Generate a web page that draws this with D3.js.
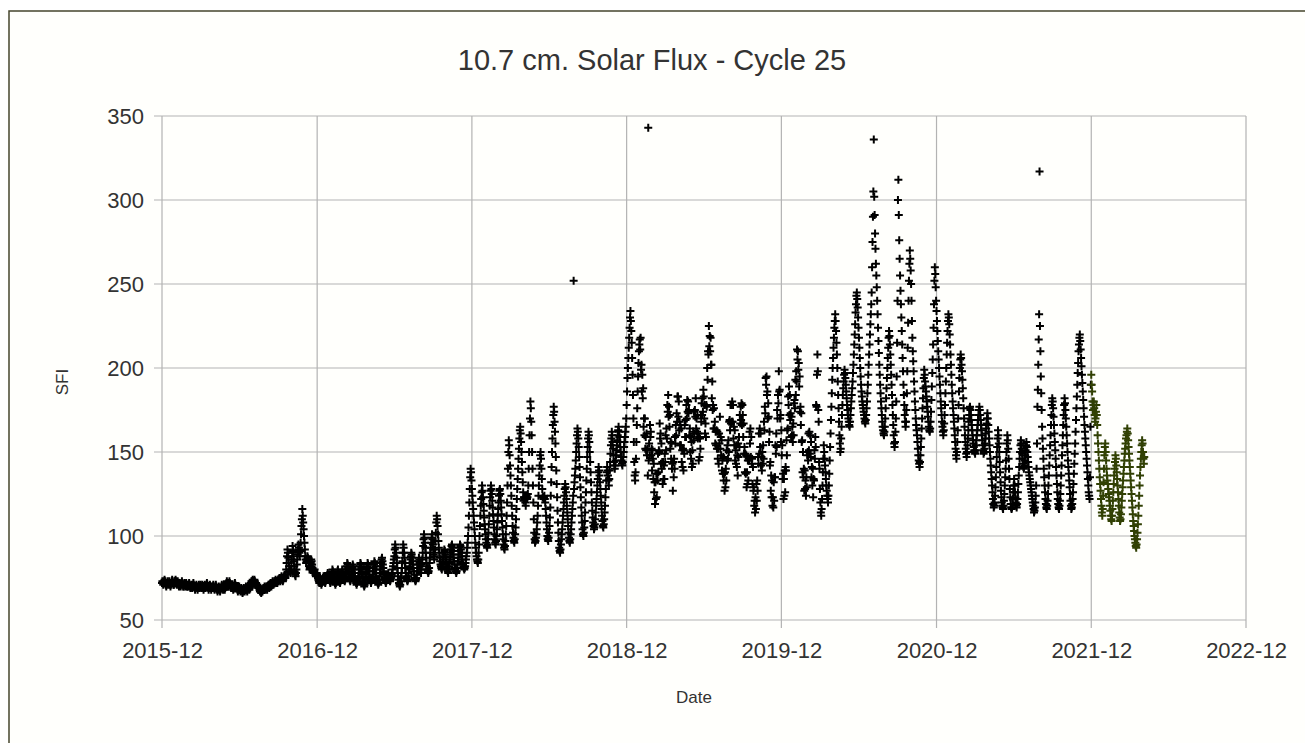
<!DOCTYPE html>
<html>
<head>
<meta charset="utf-8">
<title>10.7 cm. Solar Flux - Cycle 25</title>
<script src="https://d3js.org/d3.v7.min.js"></script>
<style>
  body { margin: 0; background: #ffffff; }
  svg { display: block; font-family: "Liberation Sans", Arial, sans-serif; }
</style>
</head>
<body>
<script>

// Daily SFI readings, one inner array per month
var sfi2015 = [
  [72,73,72,71,72,73,74,73,72,71,70,71,72,73,72,71,72,73,72,71,70,71,72,73,74,73,72,71,71,72,73]
];

var sfi2016 = [
  [73,74,73,72,71,72,73,72,71,70,71,72,71,70,71,72,73,72,71,70,70,71,72,71,70,71,72,71,70,70,71],
  [70,71,72,71,70,69,70,71,70,69,70,71,72,71,70,69,68,69,70,71,70,69,68,69,70,71,70,69,70],
  [71,70,69,70,71,70,69,68,69,70,71,70,69,70,71,72,71,70,69,68,69,70,71,70,69,68,69,70,69,70,71],
  [70,69,68,69,70,71,70,69,68,67,68,69,70,69,68,67,68,69,70,71,70,69,68,69,70,69,68,69,70,71],
  [72,73,72,71,70,71,72,73,72,71,70,69,70,71,70,69,68,69,70,71,72,71,70,69,70,69,68,67,68,69,70],
  [69,68,67,68,69,68,67,66,67,68,69,68,67,68,69,70,69,68,67,68,69,70,69,68,69,70,71,72,73,72],
  [73,74,73,72,73,74,73,72,71,72,71,70,71,70,69,70,69,68,67,68,67,66,67,68,67,68,69,68,69,70,69],
  [68,69,70,69,68,69,70,71,70,69,70,71,72,71,70,71,72,73,72,71,72,73,72,73,74,73,72,73,72,73,74],
  [73,74,75,74,73,74,75,76,75,74,73,74,75,76,77,76,75,77,80,84,88,92,90,87,84,82,80,79,78,80],
  [82,86,90,94,91,88,85,82,79,77,76,78,80,83,86,89,92,95,93,90,88,91,96,101,106,110,116,112,108,104,100],
  [96,92,88,86,84,85,86,88,87,86,84,82,80,81,82,84,86,85,83,81,80,79,78,79,80,78,77,76,77,78],
  [77,76,75,74,73,72,73,74,73,72,71,72,73,74,75,76,75,74,73,72,73,74,75,76,77,78,77,76,75,74,73]
];

var sfi2017 = [
  [72,73,74,76,78,80,79,77,75,74,73,72,71,72,73,75,77,79,80,78,76,74,73,72,73,74,76,78,80,79,77],
  [76,75,74,73,74,76,78,80,82,84,83,81,79,77,75,74,73,74,75,77,79,81,83,82,80,78,76,75],
  [74,73,72,71,72,73,74,75,76,78,80,82,84,83,81,79,77,75,73,72,71,70,71,72,74,76,78,80,82,84,83],
  [81,79,77,75,74,73,72,73,74,75,77,79,81,83,85,84,82,80,78,76,74,73,72,71,72,74,76,78,80,82],
  [84,86,87,85,83,81,79,77,75,74,73,72,73,74,75,76,77,78,76,75,74,73,74,75,76,77,78,80,82,84,86],
  [88,92,95,93,90,87,84,81,78,76,74,72,71,70,71,73,75,78,81,85,90,95,93,90,87,84,81,78,76,75],
  [74,73,74,76,78,80,82,84,86,88,90,89,87,85,83,81,79,77,75,74,73,74,75,77,79,81,83,85,87,86,84],
  [82,80,78,80,83,86,90,94,98,101,99,96,93,90,87,84,82,80,79,78,79,81,84,87,90,93,96,99,101,98,95],
  [92,89,86,88,92,97,102,108,112,110,106,101,97,93,90,87,85,83,82,81,80,82,84,86,88,90,92,91,89,87],
  [85,83,81,80,79,78,80,82,84,86,88,90,92,94,95,93,91,89,87,85,83,81,80,79,78,79,81,83,85,87,89],
  [91,93,95,94,92,90,88,86,84,83,82,81,80,81,82,84,86,88,90,93,96,100,105,112,120,128,135,140,138,133],
  [128,124,120,116,112,108,104,100,96,93,90,88,86,85,84,86,90,95,100,106,112,118,122,126,130,127,123,119,115,111,107]
];

var sfi2018 = [
  [104,101,98,96,94,93,95,98,102,107,112,118,123,127,130,128,125,121,117,113,109,105,101,98,96,95,97,100,104,108,112],
  [116,120,124,127,128,125,121,117,113,109,105,101,98,95,93,92,94,97,101,106,112,120,130,140,150,157,154,148],
  [142,136,130,124,118,112,106,102,99,97,96,98,101,105,110,116,122,128,134,140,146,152,158,163,165,161,156,150,144,138,132],
  [126,121,123,123,122,120,118,123,124,122,123,125,130,140,150,160,170,180,176,168,160,150,140,130,120,110,102,98,96,97],
  [99,101,104,108,112,118,124,130,136,142,148,150,146,140,134,128,123,123,122,123,124,122,120,116,112,108,104,100,98,97,99],
  [102,106,111,117,124,132,141,150,158,166,172,177,174,168,162,155,147,139,131,123,115,108,102,97,93,91,90,92,95,98],
  [101,104,108,112,116,120,124,128,131,129,126,122,118,114,110,106,102,99,97,96,98,101,104,108,112,116,120,124,252,128,132],
  [136,140,145,150,155,160,164,162,158,153,147,141,135,129,123,117,112,108,104,101,100,102,105,109,114,120,126,133,140,147,153],
  [158,162,160,156,150,144,138,132,126,120,115,111,108,106,104,105,107,110,114,118,122,126,130,134,138,141,139,136,132,128],
  [124,120,116,112,109,106,105,107,110,114,118,123,128,133,138,141,139,136,133,130,134,139,144,149,154,158,162,160,156,152,148],
  [144,142,140,142,145,148,151,154,157,160,163,165,162,159,156,153,150,147,145,143,142,144,147,150,153,156,159,162,165,170],
  [178,186,194,200,206,212,218,224,230,234,228,222,215,206,196,184,170,156,144,136,133,138,146,156,166,176,186,195,203,210,214]
];

var sfi2019 = [
  [217,211,218,199,202,186,196,182,188,165,170,160,170,152,159,151,161,148,152,136,343,145,155,148,166,159,162,148,152,139,151],
  [146,134,143,126,132,119,132,122,137,123,137,133,149,138,151,150,167,158,161,143,155,140,144,131,144,134,142,134],
  [149,144,160,151,164,158,178,174,184,171,177,165,172,152,156,146,155,140,143,127,144,135,146,140,159,155,166,160,173,168,183],
  [183,171,180,163,168,154,166,154,164,144,151,141,152,139,151,149,166,159,169,159,178,170,181,174,180,173,175,160,164,150],
  [159,146,156,141,151,143,162,157,174,161,175,171,182,164,170,162,172,158,161,145,159,147,158,152,172,168,179,172,182,174,187],
  [183,170,178,161,167,159,178,177,200,193,210,208,225,213,219,210,218,202,202,182,192,175,178,164,176,164,168,155,162,154],
  [163,152,162,146,152,143,161,155,171,152,159,148,157,139,145,137,147,133,137,127,138,129,140,133,151,145,154,146,157,150,168],
  [169,163,178,167,178,168,180,168,178,158,165,154,163,145,151,143,154,141,148,136,155,147,159,153,172,167,177,169,179,166,178],
  [172,159,167,149,153,138,149,137,148,129,138,131,145,133,146,145,162,155,164,147,159,143,146,131,141,127,129,118,121,114],
  [123,116,131,121,133,127,147,143,161,149,164,153,161,142,147,139,150,143,154,146,168,163,177,173,194,190,195,184,186,170,179],
  [171,156,162,142,144,127,136,123,133,118,123,117,132,121,135,135,154,149,161,153,175,170,184,179,198,186,187,170,172,156],
  [163,148,154,134,137,122,134,124,139,126,141,139,157,148,163,164,183,178,189,172,184,169,173,159,171,160,165,156,167,160,179]
];

var sfi2020 = [
  [181,176,193,184,198,192,211,205,210,199,203,189,195,174,177,166,173,156,157,138,150,135,140,127,139,128,133,124,135,129,148],
  [150,145,161,151,162,149,160,147,156,135,141,130,140,123,134,133,151,146,159,153,178,177,196,208,198,175,168,144,140],
  [128,120,114,112,116,122,130,138,146,154,150,146,142,138,134,130,127,124,122,120,124,130,137,145,153,161,169,177,185,193,200],
  [206,212,218,224,228,232,228,222,215,208,200,192,184,176,168,160,155,150,152,158,165,172,178,184,188,192,196,199,197,194],
  [190,186,182,178,175,172,170,168,166,165,168,172,176,180,184,188,192,197,202,208,214,220,226,233,238,243,245,241,236,230,224],
  [218,212,206,200,195,190,186,183,180,178,176,174,172,170,168,167,169,172,176,180,185,190,196,202,208,214,220,226,232,238],
  [245,260,275,290,305,336,302,291,280,271,262,255,248,240,232,224,216,209,202,196,190,185,180,176,172,168,165,163,161,160,162],
  [165,170,176,182,188,194,200,206,212,218,222,219,214,208,202,196,190,184,178,172,166,160,155,153,156,162,170,180,195,215,240],
  [300,312,291,276,265,255,246,238,230,222,214,206,198,190,184,178,172,168,165,168,175,185,198,212,227,240,252,262,270,265],
  [258,250,240,228,218,210,204,198,192,186,180,175,170,166,163,160,156,152,148,145,143,141,144,148,153,158,164,170,176,182,188],
  [194,199,196,192,189,186,183,180,177,174,171,168,165,163,162,164,168,174,181,189,197,205,214,224,238,252,260,256,248,240],
  [234,228,222,216,210,205,200,195,190,185,180,176,172,168,165,162,160,163,167,172,178,185,192,200,208,215,222,228,232,230,226]
];

var sfi2021 = [
  [220,214,208,202,196,190,185,180,176,172,168,164,160,156,152,148,146,150,156,163,170,178,186,194,200,205,208,206,202,198,193],
  [188,182,176,170,165,160,156,152,149,147,150,154,158,163,168,172,176,177,175,172,169,166,163,160,157,155,153,151],
  [150,149,151,154,157,160,163,166,169,172,175,177,175,172,169,166,163,160,157,154,151,149,150,152,155,158,161,164,167,170,173],
  [170,166,162,158,154,150,146,142,138,134,130,126,122,119,117,118,120,124,129,135,141,147,153,158,163,160,155,150,144,138],
  [132,127,123,120,118,117,116,118,121,125,130,135,140,145,150,155,160,157,152,146,140,134,128,123,119,117,116,117,119,122,126],
  [130,134,130,126,123,120,118,117,119,122,126,131,136,141,146,150,154,157,155,152,149,146,143,141,140,142,145,148,151,154],
  [156,153,150,147,144,141,138,136,134,132,130,128,126,124,122,120,118,116,114,115,117,120,124,130,140,155,177,187,202,217,232],
  [317,225,210,195,185,175,165,158,152,146,140,135,130,126,122,119,117,116,118,121,125,130,136,142,148,154,160,166,172,178,182],
  [180,176,171,166,161,156,151,146,141,136,131,126,122,119,117,116,118,121,125,130,136,142,148,154,160,166,172,178,182,179],
  [175,170,165,160,155,150,145,141,137,133,129,125,121,118,116,117,119,122,126,131,137,143,149,155,162,169,176,183,190,197,203],
  [210,214,218,220,216,211,206,201,196,191,186,181,176,171,166,162,158,154,150,146,142,138,134,130,126,124,122,135,165,190]
];

// Latest readings, Dec 2021 - Apr 2022 (drawn in olive)
var cycle25 = [
  [196,190,186,180,175,178,180,176,172,168,170,174,178,172,166,160,155,150,145,140,135,131,127,122,118,114,112,116,124,132,140],
  [148,153,155,150,145,140,136,133,131,128,125,123,121,118,115,112,110,109,112,116,121,126,131,136,140,144,148,146,142,138,134],
  [130,126,122,118,114,111,109,110,113,117,121,125,129,133,137,141,145,149,152,155,158,160,162,164,161,157,153,149],
  [145,141,137,133,129,125,121,117,113,109,106,103,100,98,96,94,93,95,98,102,107,112,118,124,130,136,141,146,150,154,157],
  [155,150,146,143,147]
];

var yTicks = [50, 100, 150, 200, 250, 300, 350];
var xTickYears = [2015, 2016, 2017, 2018, 2019, 2020, 2021, 2022];

// Turn month blocks into dated points
function toPoints(months, startYear, startMonth, color) {
  var pts = [];
  months.forEach(function(vals, i) {
    vals.forEach(function(v, d) {
      pts.push({ date: new Date(startYear, startMonth + i, d + 1), value: v, color: color });
    });
  });
  return pts;
}

var black = "#000000";
var olive = "#314004";

var points = []
  .concat(toPoints(sfi2015, 2015, 11, black))
  .concat(toPoints(sfi2016, 2016, 0, black))
  .concat(toPoints(sfi2017, 2017, 0, black))
  .concat(toPoints(sfi2018, 2018, 0, black))
  .concat(toPoints(sfi2019, 2019, 0, black))
  .concat(toPoints(sfi2020, 2020, 0, black))
  .concat(toPoints(sfi2021, 2021, 0, black))
  .concat(toPoints(cycle25, 2021, 11, olive));

// SVG area
var svgWidth = 1305;
var svgHeight = 743;

var margin = { top: 116, right: 59, bottom: 123, left: 162 };
var chartWidth = svgWidth - margin.left - margin.right;
var chartHeight = svgHeight - margin.top - margin.bottom;

var svg = d3.select("body")
  .append("svg")
    .attr("width", svgWidth)
    .attr("height", svgHeight);

// outer frame (runs off the right and bottom edge like the screenshot)
svg.append("rect")
  .attr("x", 9)
  .attr("y", 11)
  .attr("width", svgWidth + 20)
  .attr("height", svgHeight + 20)
  .attr("fill", "#fffffc")
  .attr("stroke", "#45452c")
  .attr("stroke-width", 1.5);

var chart = svg.append("g")
  .attr("transform", "translate(" + margin.left + "," + margin.top + ")");

// Scales
var xTimeScale = d3.scaleTime()
  .domain([new Date(2015, 11, 1), new Date(2022, 11, 1)])
  .range([0, chartWidth]);

var yLinearScale = d3.scaleLinear()
  .domain([50, 350])
  .range([chartHeight, 0]);

var tickDates = xTickYears.map(function(y) { return new Date(y, 11, 1); });
var gridColor = "#b3b3b3";

// Grid lines (they also stick out as tick marks)
chart.append("g")
  .selectAll("line")
  .data(yTicks)
  .enter()
  .append("line")
    .attr("x1", -8)
    .attr("x2", chartWidth)
    .attr("y1", function(d) { return yLinearScale(d); })
    .attr("y2", function(d) { return yLinearScale(d); })
    .attr("stroke", gridColor)
    .attr("stroke-width", 1.2);

chart.append("g")
  .selectAll("line")
  .data(tickDates)
  .enter()
  .append("line")
    .attr("x1", function(d) { return xTimeScale(d); })
    .attr("x2", function(d) { return xTimeScale(d); })
    .attr("y1", 0)
    .attr("y2", chartHeight + 8)
    .attr("stroke", gridColor)
    .attr("stroke-width", 1.2);

// Axes, used for the labels only
var leftAxis = d3.axisLeft(yLinearScale)
  .tickValues(yTicks)
  .tickSize(8)
  .tickPadding(10);

var bottomAxis = d3.axisBottom(xTimeScale)
  .tickValues(tickDates)
  .tickFormat(d3.timeFormat("%Y-%m"))
  .tickSize(8)
  .tickPadding(14);

var yAxisG = chart.append("g").attr("class", "y-axis").call(leftAxis);
var xAxisG = chart.append("g")
  .attr("class", "x-axis")
  .attr("transform", "translate(0," + chartHeight + ")")
  .call(bottomAxis);

[yAxisG, xAxisG].forEach(function(g) {
  g.select(".domain").remove();
  g.selectAll(".tick line").remove();
  g.selectAll("text")
    .style("font-family", "'Liberation Sans', Arial, sans-serif")
    .style("font-size", "22px")
    .attr("fill", "#333333");
});

// Markers: small "+" for every daily reading
chart.append("g")
  .selectAll("path")
  .data(points)
  .enter()
  .append("path")
    .attr("transform", function(d) {
      return "translate(" + xTimeScale(d.date) + "," + yLinearScale(d.value) + ")";
    })
    .attr("d", "M-4,0H4M0,-4V4")
    .attr("stroke", function(d) { return d.color; })
    .attr("stroke-width", 2)
    .attr("fill", "none");

// Titles
svg.append("text")
  .attr("x", 652)
  .attr("y", 70)
  .attr("text-anchor", "middle")
  .style("font-size", "29px")
  .attr("fill", "#333333")
  .text("10.7 cm. Solar Flux - Cycle 25");

svg.append("text")
  .attr("transform", "translate(68," + 382 + ") rotate(-90)")
  .attr("text-anchor", "middle")
  .style("font-size", "17px")
  .attr("fill", "#333333")
  .text("SFI");

svg.append("text")
  .attr("x", 694)
  .attr("y", 703)
  .attr("text-anchor", "middle")
  .style("font-size", "17px")
  .attr("fill", "#333333")
  .text("Date");

</script>
</body>
</html>
